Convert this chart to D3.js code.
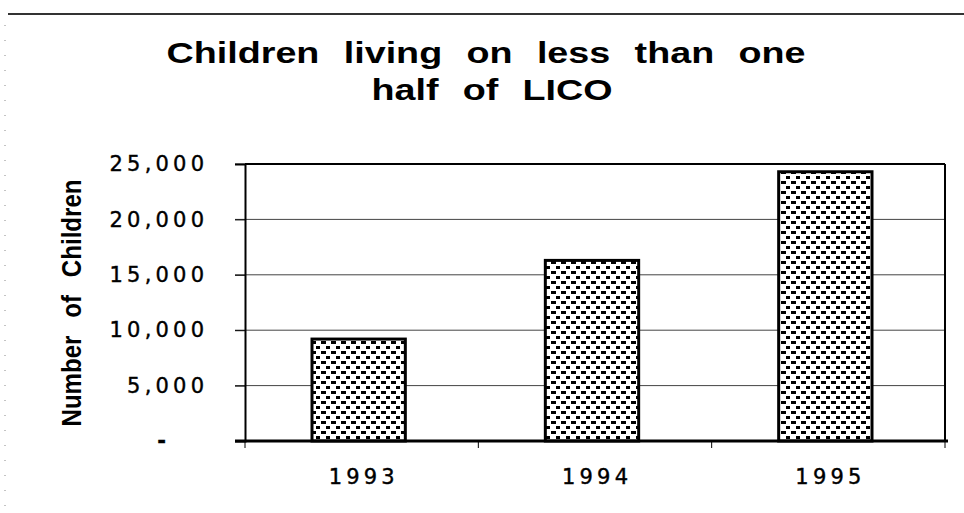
<!DOCTYPE html>
<html>
<head>
<meta charset="utf-8">
<script src="https://cdn.jsdelivr.net/npm/d3@7"></script>
<style>
  body { margin: 0; background: #fff; }
  svg { display: block; }
</style>
</head>
<body>
<svg id="chart" width="964" height="513"></svg>
<script>
// data
const years = ["1993", "1994", "1995"];
const children = [9200, 16300, 24300];
const yTicks = [0, 5000, 10000, 15000, 20000, 25000];
const titleLines = ["Children living on less than one", "half of LICO"];
const yTitle = "Number of Children";

const svg = d3.select("#chart");
const width = 964, height = 513;
const margin = { top: 164, right: 19, bottom: 72, left: 245 };
const plotW = width - margin.left - margin.right;   // 700
const plotH = height - margin.top - margin.bottom;  // 277

const sans = "Liberation Sans, Arial, sans-serif";
const wide = "DejaVu Sans, Verdana, sans-serif";

// stretched text with wide word gaps, fitted to a target width
function fitText(g, str, target, sx, size) {
  const t = g.append("text")
    .attr("font-family", sans)
    .attr("font-weight", "bold")
    .attr("font-size", size)
    .attr("fill", "#000")
    .text(str);
  const w = t.node().getComputedTextLength();
  const gaps = str.split(" ").length - 1;
  const ws = gaps ? Math.max(0, (target / sx - w) / gaps) : 0;
  t.attr("word-spacing", ws).attr("x", -(w + ws * gaps) / 2);
  return t;
}

// hatch pattern used by the bars
const defs = svg.append("defs");
const pat = defs.append("pattern")
  .attr("id", "dots")
  .attr("patternUnits", "userSpaceOnUse")
  .attr("width", 10).attr("height", 10);
pat.append("rect").attr("width", 10).attr("height", 10).attr("fill", "#fff");
pat.append("rect").attr("x", 1).attr("y", 1).attr("width", 5).attr("height", 3).attr("fill", "#000");
pat.append("rect").attr("x", 6).attr("y", 6).attr("width", 5).attr("height", 3).attr("fill", "#000");

// page frame bits from the scan
svg.append("line")
  .attr("x1", 8).attr("x2", width).attr("y1", 14).attr("y2", 14)
  .attr("stroke", "#333").attr("stroke-width", 2);
svg.append("line")
  .attr("x1", 5).attr("x2", 5).attr("y1", 25).attr("y2", height)
  .attr("stroke", "#888").attr("stroke-width", 1).attr("stroke-dasharray", "1,14");

// title (wide bold face, so stretched horizontally)
const titleBox = [
  { cx: 486, y: 63, w: 639 },
  { cx: 492, y: 100, w: 241 }
];
titleLines.forEach((line, i) => {
  const b = titleBox[i];
  const g = svg.append("g")
    .attr("transform", `translate(${b.cx},${b.y}) scale(1.3,1)`);
  fitText(g, line, b.w, 1.3, 29);
});

// scales
const x = d3.scaleBand().domain(years)
  .range([margin.left, margin.left + plotW])
  .paddingInner(0.6).paddingOuter(0.3);
const y = d3.scaleLinear().domain([0, 25000])
  .range([margin.top + plotH, margin.top]);

// gridlines
svg.append("g")
  .selectAll("line")
  .data(yTicks.filter(d => d > 0))
  .join("line")
  .attr("x1", margin.left - 10).attr("x2", margin.left + plotW)
  .attr("y1", d => y(d)).attr("y2", d => y(d))
  .attr("stroke", "#444").attr("stroke-width", 1);

// y axis
const yAxis = svg.append("g")
  .attr("transform", `translate(${margin.left},0)`)
  .call(d3.axisLeft(y).tickValues(yTicks).tickSize(10).tickPadding(31)
    .tickFormat(d => d === 0 ? "-" : d3.format(",")(d)));
yAxis.select(".domain").attr("stroke", "#000").attr("stroke-width", 2);
yAxis.selectAll(".tick line").attr("stroke", "#000");
yAxis.selectAll("text")
  .attr("font-family", wide)
  .attr("font-size", 21)
  .attr("letter-spacing", 4.2)
  .attr("dx", 4.2)
  .attr("fill", "#000")
  .attr("stroke", "#000").attr("stroke-width", 0.4);
yAxis.selectAll(".tick").filter(d => d === 0).select("text")
  .attr("dx", -38).attr("font-weight", "bold").attr("letter-spacing", 0);

// bars
svg.append("g")
  .selectAll("rect")
  .data(children)
  .join("rect")
  .attr("x", (d, i) => x(years[i]) - 3)
  .attr("y", d => y(d))
  .attr("width", x.bandwidth())
  .attr("height", d => y(0) - y(d))
  .attr("fill", "url(#dots)")
  .attr("stroke", "#000").attr("stroke-width", 3);

// plot frame top/right
svg.append("line")
  .attr("x1", margin.left).attr("x2", margin.left + plotW)
  .attr("y1", margin.top).attr("y2", margin.top)
  .attr("stroke", "#000").attr("stroke-width", 2);
svg.append("line")
  .attr("x1", margin.left + plotW).attr("x2", margin.left + plotW)
  .attr("y1", margin.top).attr("y2", margin.top + plotH)
  .attr("stroke", "#000").attr("stroke-width", 2);

// x axis
const xAxis = svg.append("g")
  .attr("transform", `translate(0,${margin.top + plotH})`)
  .call(d3.axisBottom(x).tickSize(0).tickPadding(28));
xAxis.select(".domain").attr("stroke", "#000").attr("stroke-width", 3)
  .attr("d", `M${margin.left - 10},0H${margin.left + plotW + 3}`);
xAxis.selectAll("text")
  .attr("font-family", wide)
  .attr("font-size", 21)
  .attr("letter-spacing", 4.2)
  .attr("dx", 2.1)
  .attr("fill", "#000")
  .attr("stroke", "#000").attr("stroke-width", 0.4);
// category separators on the x axis
xAxis.append("g")
  .selectAll("line")
  .data(d3.range(years.length + 1))
  .join("line")
  .attr("x1", i => margin.left + i * (plotW / years.length))
  .attr("x2", i => margin.left + i * (plotW / years.length))
  .attr("y1", 0).attr("y2", 7)
  .attr("stroke", "#000").attr("stroke-width", 1);

// y axis title (narrow bold, wide word gaps)
const yt = svg.append("g")
  .attr("transform", "translate(81,303) rotate(-90) scale(0.86,1)");
fitText(yt, yTitle, 247, 0.86, 28);
</script>
</body>
</html>
